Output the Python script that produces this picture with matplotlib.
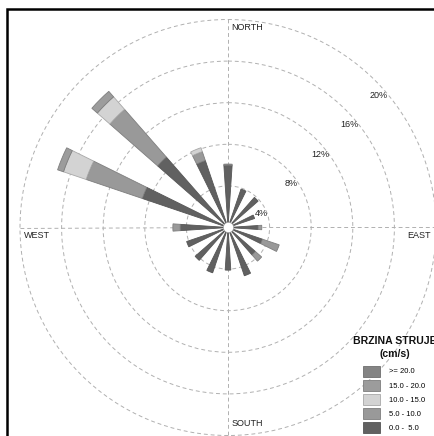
import numpy as np
import matplotlib.pyplot as plt
from matplotlib.patches import Rectangle, Patch

plt.rcParams['font.family'] = ['Liberation Sans', 'DejaVu Sans']

# 16 directions, clockwise from north
directions = ['N', 'NNE', 'NE', 'ENE', 'E', 'ESE', 'SE', 'SSE',
              'S', 'SSW', 'SW', 'WSW', 'W', 'WNW', 'NW', 'NNW']

# frequency (%) per speed class
freq_0_5 = [6.0, 3.9, 3.85, 2.7, 2.9, 3.5, 3.5, 4.9, 4.1, 4.6, 4.2, 4.2, 4.6, 8.7, 9.0, 6.8]
freq_5_10 = [0.1, 0, 0, 0, 0.35, 1.7, 0.8, 0, 0, 0, 0, 0, 0.7, 5.7, 6.1, 0.9]
freq_10_15 = [0, 0, 0, 0, 0, 0, 0, 0, 0, 0, 0, 0, 0, 2.3, 1.6, 0.4]
freq_15_20 = [0, 0, 0, 0, 0, 0, 0, 0, 0, 0, 0, 0, 0, 0.6, 0.7, 0]
freq_20 = [0, 0, 0, 0, 0, 0, 0, 0, 0, 0, 0, 0, 0, 0, 0, 0]

class_labels = ['0.0 -  5.0', '5.0 - 10.0', '10.0 - 15.0', '15.0 - 20.0', '>= 20.0']
class_colors = ['#616161', '#999999', '#d3d3d3', '#9c9c9c', '#848484']
edge_colors = ['#555555', '#7e7e7e', '#a8a8a8', '#7e7e7e', '#6e6e6e']

ring_values = [4, 8, 12, 16, 20]
cardinals = ['NORTH', 'EAST', 'SOUTH', 'WEST']

W, H = 434, 436
fig = plt.figure(figsize=(W / 100, H / 100), dpi=100)

# polar axes: centre and radius in pixels
cx, cy, r20 = 228, 227.5, 208
rmax = 20.15
R = r20 * rmax / 20
ax = fig.add_axes([(cx - R) / W, (H - cy - R) / H, 2 * R / W, 2 * R / H], projection='polar')
ax.set_theta_zero_location('N')
ax.set_theta_direction(-1)
ax.set_ylim(0, rmax)

theta = np.deg2rad(np.arange(len(directions)) * 22.5)
width = np.deg2rad(7.6)

# stacked wedges
bottom = np.zeros(len(directions))
for vals, col, ec in zip([freq_0_5, freq_5_10, freq_10_15, freq_15_20, freq_20],
                         class_colors, edge_colors):
    vals = np.array(vals, dtype=float)
    m = vals > 0
    ax.bar(theta[m], vals[m], width=width, bottom=bottom[m], color=col,
           edgecolor=ec, linewidth=0.6, zorder=3)
    bottom += vals

# white hub
ax.scatter([0], [0], s=55, c='white', edgecolors='#a0a0a0', linewidths=0.5, zorder=5)

# grid
ax.set_rticks(ring_values)
ax.set_yticklabels([])
ax.set_thetagrids([0, 90, 180, 270], labels=[''] * 4)
ax.grid(True, color='#b0b0b0', linestyle=(0, (4, 3)), linewidth=0.7)
ax.spines['polar'].set_visible(False)

# ring labels
for rv in ring_values:
    ax.annotate(f'{rv}%', xy=(np.deg2rad(45), rv), xytext=(4, -15),
                textcoords='offset pixels', ha='center', va='center',
                fontsize=6.5, color='#222222', annotation_clip=False)

# cardinal labels
card_pos = [(0, (3, -7.5), 'left'), (90, (-5, -7.5), 'right'),
            (180, (3.5, 12), 'left'), (270, (4, -7.5), 'left')]
for name, (ang, off, ha) in zip(cardinals, card_pos):
    ax.annotate(name, xy=(np.deg2rad(ang), 20), xytext=off,
                textcoords='offset pixels', ha=ha, va='center',
                fontsize=6.5, color='#222222', annotation_clip=False)

# legend title
fig.text(395 / W, 1 - 341 / H, 'BRZINA STRUJE', fontsize=7.6, fontweight='bold',
         ha='center', va='center', color='#111111')
fig.text(395 / W, 1 - 353.5 / H, '(cm/s)', fontsize=7.6, fontweight='bold',
         ha='center', va='center', color='#111111')

# legend entries
handles = [Patch(facecolor=c, edgecolor=e, linewidth=0.6)
           for c, e in zip(class_colors[::-1], edge_colors[::-1])]
fig.legend(handles, class_labels[::-1], loc='upper left',
           bbox_to_anchor=(363 / W, 1 - 365.5 / H),
           frameon=False, fontsize=5.5,
           handlelength=2.2, handleheight=1.84, handletextpad=1.2,
           labelspacing=0.4, borderpad=0, borderaxespad=0)

# outer frame (cut off on the right and bottom)
fig.add_artist(Rectangle((7.3 / W, -0.5), 2, 1.5 - 8.7 / H, fill=False,
                         edgecolor='black', linewidth=1.8, transform=fig.transFigure))

fig.savefig('out.png', dpi=100)
